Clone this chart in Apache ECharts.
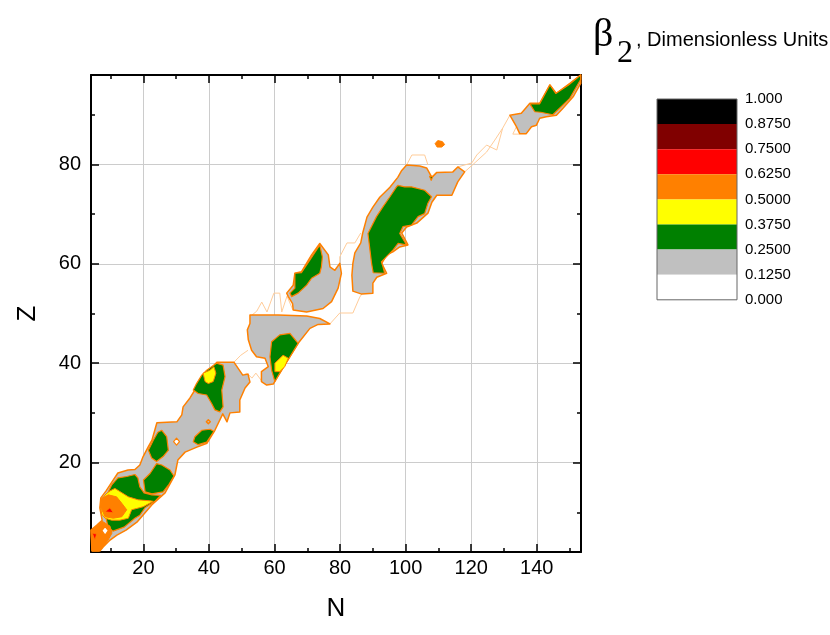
<!DOCTYPE html>
<html><head><meta charset="utf-8">
<script src="https://cdn.jsdelivr.net/npm/echarts@6/dist/echarts.min.js"></script>
<style>html,body{margin:0;padding:0;background:#fff}#c{width:830px;height:635px}</style>
</head><body><div id="c"></div>
<script>
// ---- axes / ticks ----
const X_MIN = 4, X_MAX = 153.5, Y_MIN = 2, Y_MAX = 98;
const xTicks = [20, 40, 60, 80, 100, 120, 140];
const xMinor = [10, 30, 50, 70, 90, 110, 130, 150];
const yTicks = [20, 40, 60, 80];
const yMinor = [10, 30, 50, 70, 90];

// ---- colour scale ----
const levelLabels = ['1.000', '0.8750', '0.7500', '0.6250', '0.5000', '0.3750', '0.2500', '0.1250', '0.000'];
const bandColors = ['#000000', '#800000', '#ff0000', '#ff8000', '#ffff00', '#008000', '#c0c0c0', '#ffffff'];

// ---- contour regions, vertices as [N, Z] ----
// beta2 >= 0.125
const grayRegions = [
  [[4.3,2.2],[4.0,6.4],[5.8,7.4],[7.4,8.4],[6.7,10.9],[7.0,12.9],[8.6,14.3],[10.4,16.1],[12.2,17.9],[15.3,18.5],[17.4,18.6],[18.9,19.5],[19.9,21.2],[21.5,23.2],[22.6,24.5],[24.1,28.0],[30.2,28.2],[31.7,29.6],[32.1,31.2],[34.2,33.0],[35.7,34.6],[39.4,38.0],[42.4,40.2],[47.6,40.2],[50.3,37.6],[51.9,37.8],[52.5,36.2],[51.0,35.0],[49.4,32.6],[49.4,30.2],[46.4,30.0],[45.5,28.2],[44.2,29.8],[41.8,26.5],[39.4,23.9],[36.3,23.1],[32.7,22.1],[30.5,20.5],[29.6,17.5],[26.6,13.9],[22.6,11.5],[18.0,8.0],[14.7,6.4],[11.9,5.4],[9.8,4.4],[7.7,3.0],[6.7,2.2]],
  [[39.2,28.2],[39.8,28.6],[40.4,28.2],[39.8,27.8]],
  [[52.5,49.7],[61.1,49.7],[69.8,49.5],[73.8,49.0],[76.9,47.9],[73.3,47.8],[70.8,47.0],[67.2,44.0],[64.7,41.3],[61.6,38.0],[59.6,35.8],[57.6,35.6],[56.0,36.3],[56.0,38.3],[58.1,39.3],[57.1,41.0],[54.5,41.3],[53.0,42.6],[52.0,44.7],[51.7,46.7],[52.5,48.0]],
  [[73.8,64.1],[76.4,61.8],[76.9,59.4],[78.4,58.7],[79.9,60.1],[80.4,58.1],[79.4,55.1],[77.4,52.4],[74.8,51.0],[69.8,50.3],[65.7,50.7],[65.5,52.0],[64.2,53.4],[63.7,54.1],[65.7,55.7],[66.2,58.1],[68.2,58.4],[71.3,61.8]],
  [[83.9,54.5],[83.6,57.7],[83.9,60.1],[84.5,62.2],[86.3,64.2],[86.9,66.2],[88.2,69.4],[90.0,71.4],[92.1,73.4],[95.2,75.4],[97.6,77.4],[98.8,78.8],[100.3,79.9],[104.3,79.7],[106.4,79.3],[108.0,77.4],[109.5,78.4],[114.4,78.5],[115.9,79.5],[118.0,78.5],[115.9,76.5],[114.1,73.8],[109.5,73.8],[108.0,72.4],[106.8,70.2],[103.4,68.2],[100.3,67.4],[98.8,66.2],[100.7,63.8],[98.2,63.4],[96.1,62.4],[94.2,61.8],[92.7,60.1],[94.2,58.1],[91.2,57.3],[90.0,56.1],[90.0,54.1],[86.6,53.9]],
  [[131.8,89.9],[135.3,90.3],[137.9,92.3],[140.9,92.3],[144.0,96.0],[146.0,94.3],[150.1,96.3],[153.4,98.0],[153.4,96.3],[151.1,93.6],[148.0,91.3],[146.0,89.9],[142.9,89.6],[140.9,89.3],[139.9,87.9],[138.4,87.6],[136.8,86.2],[134.8,86.2],[133.8,87.6]]
];
// beta2 >= 0.25
const greenRegions = [
  [[25.6,26.5],[27.1,25.2],[27.6,22.5],[26.0,21.2],[24.0,20.2],[22.5,20.9],[21.5,22.5],[23.0,24.5],[24.4,26.1]],
  [[24.0,19.8],[25.6,19.5],[28.1,18.5],[29.3,17.3],[27.8,15.6],[26.0,14.1],[22.6,13.7],[20.5,14.1],[20.0,16.5],[22.0,17.8]],
  [[7.6,11.8],[10.3,15.5],[12.2,16.9],[14.9,17.2],[17.4,17.6],[18.3,16.9],[18.9,15.1],[20.2,13.9],[22.6,13.5],[25.2,13.4],[23.5,12.2],[20.5,10.9],[18.9,9.4],[17.4,8.8],[14.1,7.0],[10.7,6.2],[9.2,7.0],[8.6,8.8],[7.2,9.8]],
  [[37.8,37.6],[39.3,38.6],[42.3,40.0],[44.3,39.6],[44.9,37.3],[43.9,34.6],[44.3,31.2],[43.3,30.2],[41.8,30.6],[40.8,31.9],[39.3,33.6],[36.7,33.9],[35.2,34.6],[36.2,35.9]],
  [[35.7,25.2],[37.8,26.5],[40.3,26.7],[41.5,26.3],[39.3,24.1],[36.7,23.6],[35.2,24.2]],
  [[59.1,44.3],[61.6,45.7],[64.7,46.0],[67.2,44.0],[64.7,41.3],[61.6,38.0],[60.1,36.3],[59.1,38.6],[58.6,41.3]],
  [[64.7,54.1],[66.2,55.1],[66.2,58.1],[68.2,58.2],[70.8,60.8],[73.8,63.8],[74.6,61.4],[74.3,59.4],[73.8,58.1],[71.3,57.1],[69.8,55.7],[67.2,54.1],[65.2,53.4]],
  [[97.7,75.8],[99.7,75.5],[101.8,75.5],[105.8,74.8],[107.9,73.5],[106.8,72.2],[105.8,70.1],[103.8,69.5],[101.8,67.8],[99.2,67.5],[98.2,66.1],[100.3,63.8],[97.7,64.1],[96.2,62.8],[92.6,60.4],[93.1,59.4],[93.6,58.1],[90.1,58.2],[89.6,60.1],[89.1,62.8],[88.5,66.1],[91.1,69.5],[93.1,71.5],[95.2,73.5],[97.2,75.5]],
  [[107.3,77.6],[108.3,77.6],[107.8,76.8]],
  [[137.9,92.2],[140.9,92.2],[144.0,96.0],[145.8,94.3],[149.7,96.0],[153.4,98.0],[153.4,97.1],[150.1,93.3],[147.3,91.5],[144.9,90.0],[141.2,90.5],[139.4,90.6]]
];
// beta2 >= 0.375
const yellowRegions = [
  [[8.6,13.7],[9.8,14.3],[11.3,14.8],[15.4,13.1],[18.4,12.5],[22.0,12.3],[23.0,12.2],[19.9,11.1],[16.4,10.5],[15.4,8.8],[12.8,8.4],[10.3,8.4],[8.3,8.8],[7.3,9.6],[6.9,11.1],[7.2,12.6]],
  [[38.2,38.0],[40.3,38.6],[41.5,39.3],[42.1,38.0],[41.3,36.3],[39.8,35.9],[38.8,36.3]],
  [[60.1,40.0],[62.6,41.6],[64.2,41.0],[63.1,39.3],[61.6,38.3],[60.1,38.3]]
];
// beta2 >= 0.5
const orangeRegions = [
  [[4.3,2.2],[4.0,6.4],[5.8,7.3],[7.4,8.2],[9.8,7.2],[10.4,5.8],[9.2,4.4],[7.7,3.0],[6.4,2.2]],
  [[6.9,11.1],[7.3,12.8],[9.3,13.5],[11.8,13.1],[13.4,11.8],[14.9,10.5],[13.4,9.1],[10.8,8.8],[8.3,9.1]],
  [[109.0,84.2],[109.8,84.8],[111.2,84.6],[111.9,84.0],[111.0,83.5],[109.6,83.5]]
];
// beta2 >= 0.625
const redRegions = [
  [[4.4,5.8],[5.7,5.6],[5.2,4.4]],
  [[8.3,10.1],[9.8,10.9],[10.8,9.9]]
];
// regions below 0.125 enclosed by the band
const holeRegions = [
  [[7.3,6.3],[8.3,7.1],[9.3,6.3],[8.3,5.4]],
  [[29.2,24.2],[30.1,24.9],[31.0,24.2],[30.1,23.5]]
];
// faint outline of the calculated region
const faintLines = [
  [[47.6,40.2],[49.7,41.6],[51.9,42.6]],
  [[50.3,37.6],[51.6,38.0],[53.1,37.0],[54.3,38.0],[56.1,36.4]],
  [[52.8,49.5],[54.6,50.5],[56.1,52.3],[57.7,50.3],[59.8,54.1],[61.6,54.1],[62.2,50.3],[63.8,53.5],[65.6,50.7]],
  [[76.9,47.9],[79.9,50.1],[83.9,50.1],[86.0,53.3],[86.6,53.9]],
  [[79.9,60.1],[79.9,61.4],[82.1,64.2],[84.5,64.2],[86.3,66.2]],
  [[100.3,79.9],[101.9,81.9],[105.8,81.9],[106.8,79.9]],
  [[115.9,79.5],[120.2,80.3],[121.7,81.9],[124.7,83.9],[127.8,82.9],[129.6,87.3],[131.8,89.9]],
  [[118.0,78.5],[121.4,80.5],[124.7,82.5],[127.2,84.9],[129.6,87.3]],
  [[133.8,87.6],[132.7,86.1],[134.8,86.1]]
];

const OUTLINE = '#ff8000';
function polySeries(polys, fill, stroke, lw) {
  return {
    type: 'custom', coordinateSystem: 'cartesian2d', xAxisIndex: 0, yAxisIndex: 0,
    silent: true, animation: false,
    data: polys.map((p, i) => [p[0][0], p[0][1], i]),
    encode: { x: 0, y: 1 },
    renderItem: (params, api) => {
      const p = polys[api.value(2)];
      return { type: 'polygon', shape: { points: p.map(v => api.coord(v)) },
        style: { fill: fill, stroke: stroke, lineWidth: lw, lineJoin: 'round' } };
    }
  };
}
function lineSeries(lines, stroke, lw) {
  return {
    type: 'custom', coordinateSystem: 'cartesian2d', xAxisIndex: 0, yAxisIndex: 0,
    silent: true, animation: false,
    data: lines.map((p, i) => [p[0][0], p[0][1], i]),
    encode: { x: 0, y: 1 },
    renderItem: (params, api) => {
      const p = lines[api.value(2)];
      return { type: 'polyline', shape: { points: p.map(v => api.coord(v)) },
        style: { fill: null, stroke: stroke, lineWidth: lw } };
    }
  };
}

function xAx(pos, major, withLabel) {
  return {
    type: 'value', min: X_MIN, max: X_MAX, position: pos,
    axisLine: { show: major, onZero: false, lineStyle: { color: '#000', width: 2 } },
    axisTick: { show: true, inside: true, length: major ? 8 : 4, lineStyle: { color: '#000', width: 1.5 },
      customValues: major ? xTicks : xMinor },
    axisLabel: { show: withLabel, customValues: xTicks, color: '#000', fontSize: 20, fontFamily: 'Liberation Sans', margin: 6 },
    splitLine: { show: withLabel, lineStyle: { color: '#cccccc', width: 1 } },
    name: withLabel ? 'N' : '', nameLocation: 'middle', nameGap: 44,
    nameTextStyle: { fontSize: 26, color: '#000', fontFamily: 'Liberation Sans' }
  };
}
function yAx(pos, major, withLabel) {
  return {
    type: 'value', min: Y_MIN, max: Y_MAX, position: pos,
    axisLine: { show: major, onZero: false, lineStyle: { color: '#000', width: 2 } },
    axisTick: { show: true, inside: true, length: major ? 8 : 4, lineStyle: { color: '#000', width: 1.5 },
      customValues: major ? yTicks : yMinor },
    axisLabel: { show: withLabel, customValues: yTicks, color: '#000', fontSize: 20, fontFamily: 'Liberation Sans', margin: 10 },
    splitLine: { show: withLabel, lineStyle: { color: '#cccccc', width: 1 } },
    name: withLabel ? 'Z' : '', nameLocation: 'middle', nameGap: 50,
    nameTextStyle: { fontSize: 26, color: '#000', fontFamily: 'Liberation Sans' }
  };
}

// legend (colour scale) built from the arrays
const LEG_X = 657, LEG_Y = 99, LEG_W = 80, LEG_H = 25.1;
const graphic = [];
bandColors.forEach((c, i) => graphic.push({ type: 'rect', silent: true,
  shape: { x: LEG_X, y: LEG_Y + i * LEG_H, width: LEG_W, height: LEG_H }, style: { fill: c } }));
graphic.push({ type: 'rect', silent: true, shape: { x: LEG_X, y: LEG_Y, width: LEG_W, height: LEG_H * bandColors.length },
  style: { fill: null, stroke: '#666', lineWidth: 1 } });
levelLabels.forEach((t, i) => graphic.push({ type: 'text', silent: true, x: 745, y: LEG_Y + i * LEG_H,
  style: { text: t, font: '15px "Liberation Sans"', fill: '#000', align: 'left', verticalAlign: 'middle' } }));
graphic.push({ type: 'text', silent: true, x: 593, y: 35,
  style: { text: 'β', font: '40px "Liberation Serif"', fill: '#000', align: 'left', verticalAlign: 'middle' } });
graphic.push({ type: 'text', silent: true, x: 617, y: 54,
  style: { text: '2', font: '32px "Liberation Serif"', fill: '#000', align: 'left', verticalAlign: 'middle' } });
graphic.push({ type: 'text', silent: true, x: 636, y: 40,
  style: { text: ', Dimensionless Units', font: '20px "Liberation Sans"', fill: '#000', align: 'left', verticalAlign: 'middle' } });

const chart = echarts.init(document.getElementById('c'), null, { renderer: 'canvas' });
chart.setOption({
  backgroundColor: '#fff',
  animation: false,
  grid: { left: 91, right: 249, top: 75, bottom: 83, containLabel: false },
  xAxis: [xAx('bottom', true, true), xAx('bottom', false, false), xAx('top', true, false), xAx('top', false, false)],
  yAxis: [yAx('left', true, true), yAx('left', false, false), yAx('right', true, false), yAx('right', false, false)],
  series: [
    lineSeries(faintLines, '#ffcc99', 1),
    polySeries(grayRegions, '#c0c0c0', OUTLINE, 1.5),
    polySeries(greenRegions, '#008000', OUTLINE, 1.2),
    polySeries(yellowRegions, '#ffff00', OUTLINE, 1),
    polySeries(orangeRegions, '#ff8000', OUTLINE, 1),
    polySeries(redRegions, '#ff0000', OUTLINE, 0.8),
    polySeries(holeRegions, '#ffffff', OUTLINE, 1.2)
  ],
  graphic: graphic
});
</script></body></html>
